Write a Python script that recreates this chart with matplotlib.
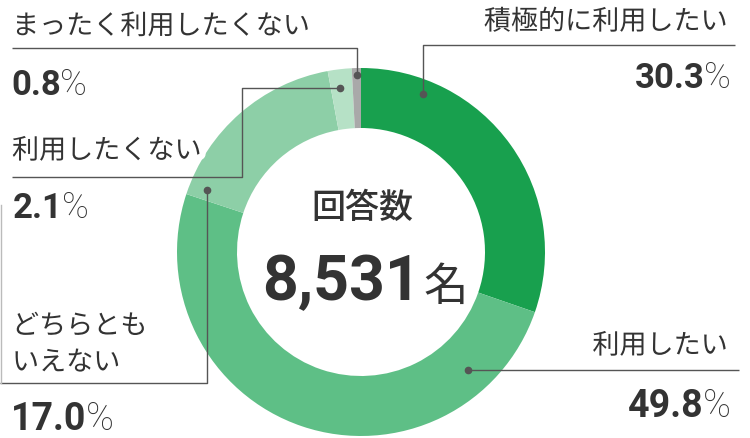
import matplotlib
matplotlib.use("Agg")
import matplotlib.pyplot as plt
import matplotlib.patheffects as pe

# ---- data ----
categories = ["積極的に利用したい", "利用したい", "どちらとも\nいえない", "利用したくない", "まったく利用したくない"]
values = [30.3, 49.8, 17.0, 2.1, 0.8]
pct_labels = ["30.3", "49.8", "17.0", "2.1", "0.8"]
colors = ["#18a04e", "#5ebf86", "#8dcfa7", "#b6e1c6", "#a9a9a9"]
center_title = "回答数"
center_value = "8,531"
center_unit = "名"

W, H = 750, 438
JP = ["Noto Sans CJK JP", "DejaVu Sans"]
NUM = ["Roboto", "Noto Sans CJK JP", "DejaVu Sans"]
TXT = "#333333"
LINE = "#555555"

fig = plt.figure(figsize=(W / 100, H / 100), dpi=100)
ax = fig.add_axes([0, 0, 1, 1])

def Y(y):
    return H - y

cx, cy, R, width = 361, 252, 184, 60
ax.pie(values, colors=colors, startangle=90, counterclock=False,
       radius=R, center=(cx, Y(cy)),
       wedgeprops=dict(width=width, linewidth=0))
ax.set_xlim(0, W)
ax.set_ylim(0, H)
ax.set_aspect("equal")
ax.axis("off")

renderer = fig.canvas.get_renderer()
halo = [pe.withStroke(linewidth=9, foreground="white")]

def label(x, y, s, ha="left", size=19.5, **kw):
    return ax.text(x, Y(y), s, ha=ha, va="center", fontsize=size, family=JP,
                   color=TXT, path_effects=halo, zorder=5, **kw)

def pct(x, y, num, ha="left", size=25, psize=26):
    t1 = ax.text(0, Y(y), num, ha="left", va="baseline", fontsize=size,
                 family=NUM, weight="bold", color=TXT, zorder=5)
    t2 = ax.text(0, Y(y), "%", ha="left", va="baseline", fontsize=psize,
                 family=NUM, weight="light", color=TXT, zorder=5)
    w1 = t1.get_window_extent(renderer).width
    w2 = t2.get_window_extent(renderer).width
    gap = -1
    start = x if ha == "left" else x - (w1 + gap + w2)
    t1.set_x(start)
    t2.set_x(start + w1 + gap)

def leader(pts, dot):
    xs = [p[0] for p in pts]
    ys = [Y(p[1]) for p in pts]
    ax.plot(xs, ys, color=LINE, lw=1.0, zorder=4, solid_capstyle="butt")
    ax.plot([dot[0]], [Y(dot[1])], "o", color=LINE, ms=4.5, zorder=6)

# leader lines
leader([(423, 94), (423, 45), (735, 45)], (423, 94))
leader([(468, 370), (739, 370)], (468, 370))
leader([(357, 75), (357, 48), (12, 48)], (357, 75))
leader([(340, 88), (242, 88), (242, 177), (12, 177)], (340, 88))
leader([(207, 190), (207, 383), (0, 383)], (207, 190))
ax.plot([0.5, 0.5], [Y(383), Y(205)], color="#bbbbbb", lw=1.0, zorder=4)

# labels
label(728, 22, categories[0], ha="right")
pct(731, 88, pct_labels[0], ha="right")
label(728, 346, categories[1], ha="right")
pct(731, 417, pct_labels[1], ha="right", size=27, psize=27)
label(12, 26.5, categories[4])
pct(11, 95, pct_labels[4])
label(12, 151, categories[3])
pct(13, 218, pct_labels[3])
label(12, 344.5, categories[2], linespacing=1.45)
pct(11, 430, pct_labels[2], size=27, psize=27)

# center text
ax.text(362, Y(208), center_title, ha="center", va="center", fontsize=24.5,
        family=JP, weight="medium", color=TXT, zorder=5)
tn = ax.text(0, Y(300), center_value, ha="left", va="baseline", fontsize=45,
             family=NUM, weight="bold", color=TXT, zorder=5)
tu = ax.text(0, Y(300), center_unit, ha="left", va="baseline", fontsize=32,
             family=JP, color=TXT, zorder=5)
wn = tn.get_window_extent(renderer).width
wu = tu.get_window_extent(renderer).width
gap = 2
total = wn + gap + wu
sx = 365 - total / 2
tn.set_x(sx)
tu.set_x(sx + wn + gap)

fig.savefig("out.png", dpi=100, facecolor="white")
